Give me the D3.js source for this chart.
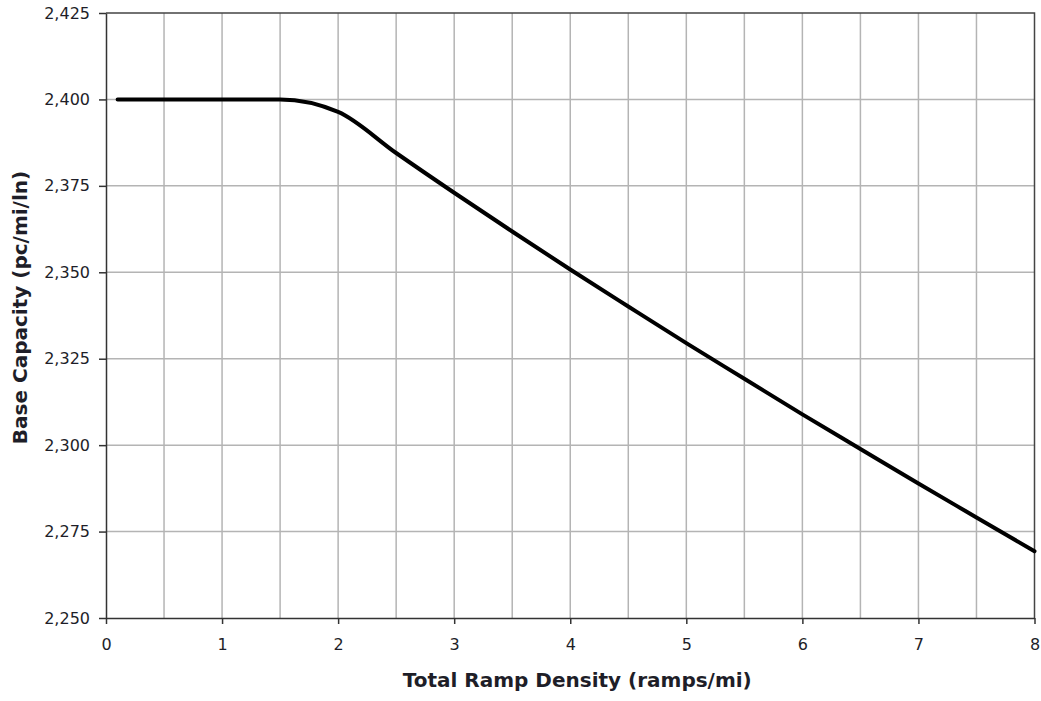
<html>
<head>
  <style>
    body { margin: 0; background: #fff; }
    svg text { font-family: "DejaVu Sans", Verdana, sans-serif; fill: #1e1e28; }
    .grid line { stroke: #b4b4b4; stroke-width: 1.5; }
  </style>
</head>
<body>
  <div id="elm"></div>
  <script src="https://d3js.org/d3.v7.min.js"></script>
  <script>
    'use strict';

    // total ramp density (ramps/mi) and base capacity (pc/mi/ln)
    var density  = [0.1, 0.5, 1, 1.5, 2, 2.5, 3, 3.5, 4, 4.5, 5, 5.5, 6, 6.5, 7, 7.5, 8];
    var capacity = [2400, 2400, 2400, 2400, 2396.4, 2384.5, 2373, 2361.8, 2350.8, 2340.1,
                    2329.5, 2319.2, 2308.9, 2298.9, 2288.9, 2279.1, 2269.3];
    var xTicks = [0, 1, 2, 3, 4, 5, 6, 7, 8];
    var xGrid  = [0.5, 1, 1.5, 2, 2.5, 3, 3.5, 4, 4.5, 5, 5.5, 6, 6.5, 7, 7.5];
    var yTicks = [2250, 2275, 2300, 2325, 2350, 2375, 2400, 2425];

    var width = 1041, height = 701;
    var m = { top: 13, right: 6.5, bottom: 83, left: 106 };
    var w = width - m.left - m.right, h = height - m.top - m.bottom;

    var svg = d3.select('#elm').append('svg').attr('width', width).attr('height', height);
    var g = svg.append('g').attr('transform', 'translate(' + m.left + ',' + m.top + ')');

    var x = d3.scaleLinear().domain([0, 8]).range([0, w]);
    var y = d3.scaleLinear().domain([2250, 2425]).range([h, 0]);

    var grid = g.append('g').attr('class', 'grid');
    grid.selectAll('line.v').data(xGrid).enter().append('line').attr('class', 'v')
      .attr('x1', x).attr('x2', x).attr('y1', 0).attr('y2', h);
    grid.selectAll('line.h').data(yTicks.slice(1, -1)).enter().append('line').attr('class', 'h')
      .attr('x1', 0).attr('x2', w).attr('y1', y).attr('y2', y);

    // frame top & right
    g.append('path').attr('d', 'M0,0H' + w + 'V' + h)
      .attr('fill', 'none').attr('stroke', '#444').attr('stroke-width', 1.5);

    var xAxis = g.append('g').attr('transform', 'translate(0,' + h + ')')
      .call(d3.axisBottom(x).tickValues(xTicks).tickSize(6).tickPadding(15).tickSizeOuter(0));
    var yAxis = g.append('g')
      .call(d3.axisLeft(y).tickValues(yTicks).tickFormat(d3.format(',')).tickSize(7).tickPadding(9).tickSizeOuter(0));

    [xAxis, yAxis].forEach(function(a) {
      a.select('.domain').attr('stroke', '#333').attr('stroke-width', 1.5);
      a.selectAll('.tick line').attr('stroke', '#333').attr('stroke-width', 1.5);
      a.selectAll('.tick text').style('font-size', '16px').attr('fill', '#1e1e28')
        .style('font-family', '"DejaVu Sans", Verdana, sans-serif');
    });

    var line = d3.line()
      .x(function(d, i) { return x(density[i]); })
      .y(function(d) { return y(d); })
      .curve(d3.curveMonotoneX);

    g.append('path').datum(capacity).attr('d', line)
      .attr('fill', 'none').attr('stroke', '#000').attr('stroke-width', 4)
      .attr('stroke-linecap', 'round');

    svg.append('text').attr('x', m.left + w / 2 + 7).attr('y', 687)
      .attr('text-anchor', 'middle').style('font-size', '20px').style('font-weight', 'bold')
      .text('Total Ramp Density (ramps/mi)');

    svg.append('text').attr('transform', 'translate(27,' + (m.top + h / 2 - 8) + ') rotate(-90)')
      .attr('text-anchor', 'middle').style('font-size', '20px').style('font-weight', 'bold')
      .text('Base Capacity (pc/mi/ln)');
  </script>
</body>
</html>
